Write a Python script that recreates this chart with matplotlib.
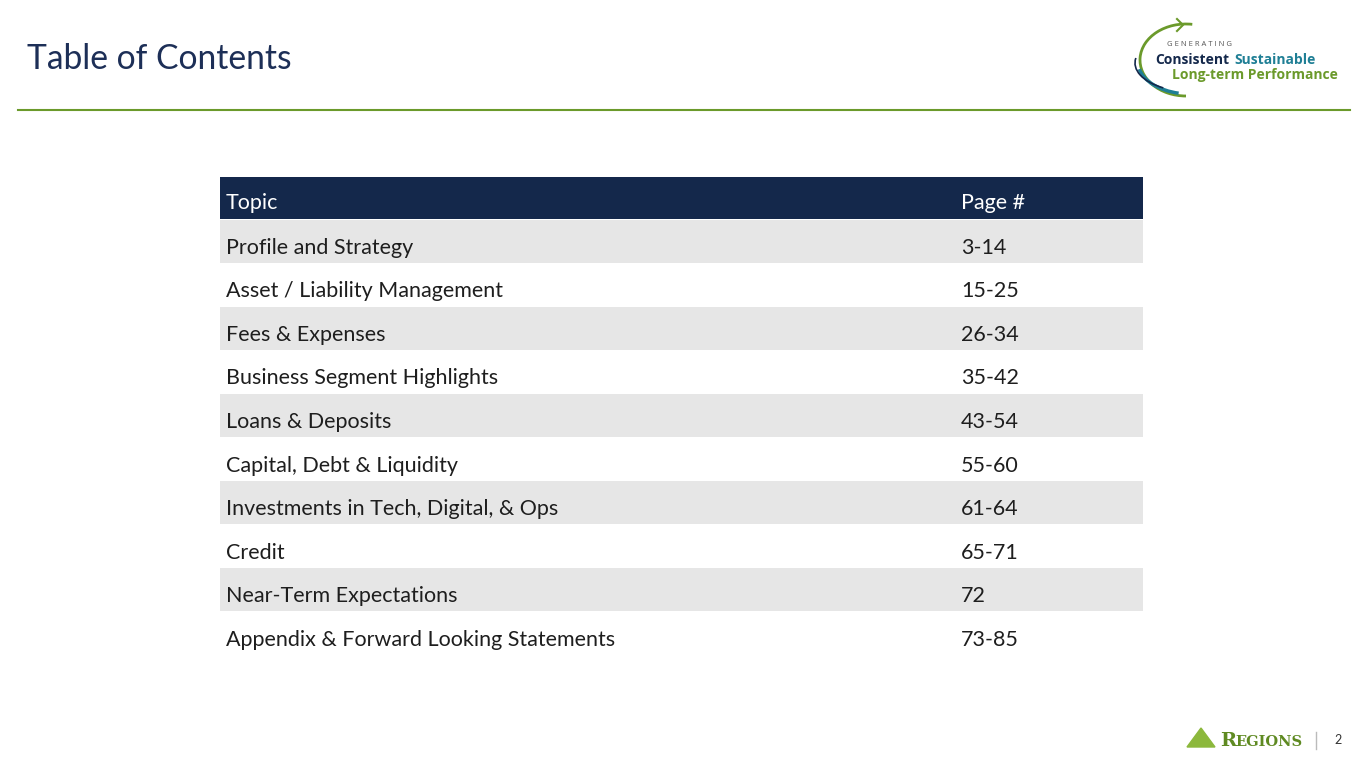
import matplotlib.pyplot as plt
from matplotlib.patches import Arc, Polygon

plt.rcParams["font.family"] = ["Lato", "DejaVu Sans"]

# table data
topics = ["Profile and Strategy", "Asset / Liability Management", "Fees & Expenses",
          "Business Segment Highlights", "Loans & Deposits", "Capital, Debt & Liquidity",
          "Investments in Tech, Digital, & Ops", "Credit", "Near-Term Expectations",
          "Appendix & Forward Looking Statements"]
pages = ["3-14", "15-25", "26-34", "35-42", "43-54", "55-60", "61-64", "65-71", "72", "73-85"]
header = ["Topic", "Page #"]

navy = "#14284b"
green = "#6b9a2b"
teal = "#1f7f95"
shade = "#e6e6e6"

W, H = 1365, 768
fig = plt.figure(figsize=(13.65, 7.68), dpi=100)
bg = fig.add_axes([0, 0, 1, 1])
bg.set_xlim(0, W)
bg.set_ylim(H, 0)
bg.axis("off")

# title + rule
bg.text(27, 59, "Table of Contents", fontsize=24.2, color="#1d2f57", va="center", ha="left")
bg.plot([18, 1350], [110, 110], color=green, lw=1.5)

# logo top right (y axis inverted -> angles mirrored)
bg.add_patch(Arc((1186, 60), 92, 72, theta1=90, theta2=280, color=green, lw=2))
bg.add_patch(Arc((1190, 62), 104, 64, theta1=110, theta2=172, color=teal, lw=2.5))
bg.add_patch(Arc((1193, 63), 116, 58, theta1=140, theta2=185, color=navy, lw=1.2))
bg.plot([1177, 1183, 1177], [19, 25, 31], color=green, lw=1.5)
logo_font = ["Open Sans", "DejaVu Sans"]
bg.text(1167, 44, "G E N E R A T I N G", fontsize=5.5, color="#555555", va="center", family=logo_font)
bg.text(1155, 60, "Consistent", fontsize=10, color=navy, fontweight="bold", va="center", family=logo_font)
bg.text(1234, 60, "Sustainable", fontsize=10, color=teal, fontweight="bold", va="center", family=logo_font)
bg.text(1172, 75, "Long-term Performance", fontsize=10, color=green, fontweight="bold", va="center",
        family=logo_font)

# footer
bg.add_patch(Polygon([[1187, 747], [1201, 728], [1215, 747]], color="#8cb83c"))
bg.text(1220, 741, "R", fontsize=14, color="#5f8a22", family="DejaVu Serif", fontweight="bold", va="center")
bg.text(1235, 742, "EGIONS", fontsize=10.5, color="#5f8a22", family="DejaVu Serif", fontweight="bold", va="center")
bg.plot([1316, 1316], [732, 749], color="#bbbbbb", lw=1)
bg.text(1338, 740, "2", fontsize=9, color="#333333", va="center", ha="center")

# table axes: x 220..1143, y 176..655
tx0, tx1, ty0, ty1 = 220, 1143, 176, 655
ax = fig.add_axes([tx0 / W, 1 - ty1 / H, (tx1 - tx0) / W, (ty1 - ty0) / H])
n = len(topics) + 1
ax.set_xlim(0, 1)
ax.set_ylim(n - 0.5, -0.5)
ax.axis("off")

ax.barh(0, 1, left=0, height=0.97, color=navy, align="center")
for i in range(len(topics)):
    if i % 2 == 0:
        ax.barh(i + 1, 1, left=0, height=1, color=shade)

col2 = (961 - tx0) / (tx1 - tx0)
fs = 15.5
ax.text(0.0065, 0.12, header[0], fontsize=fs, color="white", va="center")
ax.text(col2, 0.12, header[1], fontsize=fs, color="white", va="center")
for i, (t, p) in enumerate(zip(topics, pages)):
    ax.text(0.0065, i + 1.15, t, fontsize=fs, color="#1e1e1e", va="center")
    ax.text(col2, i + 1.15, p, fontsize=fs, color="#1e1e1e", va="center")

fig.savefig("out.png", dpi=100)
